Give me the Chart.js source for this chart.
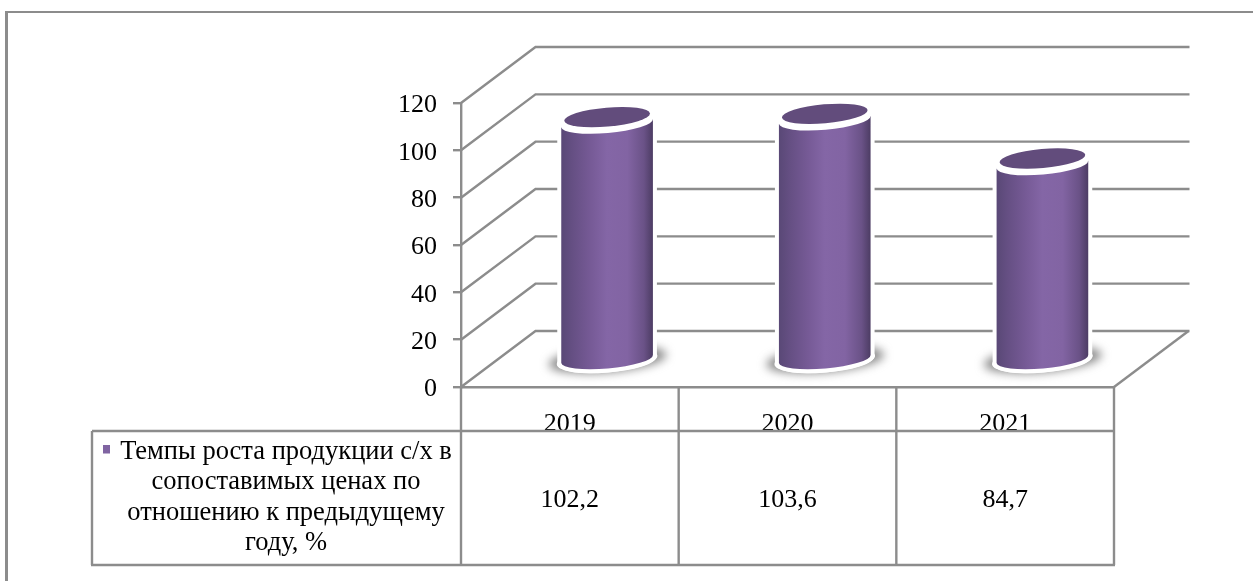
<!DOCTYPE html>
<html>
<head>
<meta charset="utf-8">
<script src="https://cdn.jsdelivr.net/npm/chart.js@4"></script>
<style>
html,body{margin:0;padding:0;background:#fff;overflow:hidden}
canvas{display:block}
</style>
</head>
<body>
<canvas id="c" width="1253" height="581"></canvas>
<script>
const categories = ["2019", "2020", "2021"];
const seriesValues = [102.2, 103.6, 84.7];
const valueLabels = ["102,2", "103,6", "84,7"];
const seriesName = "Темпы роста продукции с/х в сопоставимых ценах по отношению к предыдущему году, %";
const legendLines = ["Темпы роста продукции с/х в", "сопоставимых ценах по", "отношению к предыдущему", "году, %"];
const yTicks = [0, 20, 40, 60, 80, 100, 120];

const GRID = "#8c8c8c", FONT = "26px 'Liberation Serif'", LEGEND_FONT = "26.5px 'Liberation Serif'", TXT = "#000";
const DX = 74.5, DY = -56;
const TILT = -5 * Math.PI / 180;

function line(ctx, x1, y1, x2, y2) { ctx.beginPath(); ctx.moveTo(x1, y1); ctx.lineTo(x2, y2); ctx.stroke(); }

const scene = {
  id: "scene",
  beforeDraw(chart) {
    const y = chart.scales.y, ctx = chart.ctx;
    if (!y._shifted) {
      const orig = y.drawLabels;
      y.drawLabels = function (ca) { ctx.save(); ctx.translate(0, 2.5); orig.call(this, ca); ctx.restore(); };
      y._shifted = true;
    }
  },
  beforeDatasetsDraw(chart) {
    const { ctx, chartArea: a, scales: { x, y } } = chart;
    ctx.save();
    ctx.strokeStyle = GRID;
    // outer frame
    ctx.lineWidth = 3; line(ctx, 6.5, 581, 6.5, 11);
    ctx.lineWidth = 2; line(ctx, 5, 12, 1253, 12);
    ctx.lineWidth = 2.4;
    // walls and floor
    yTicks.forEach(v => {
      const p = y.getPixelForValue(v);
      ctx.beginPath(); ctx.moveTo(a.left, p); ctx.lineTo(a.left + DX, p + DY); ctx.lineTo(a.right + DX + 1, p + DY); ctx.stroke();
    });
    line(ctx, a.right, a.bottom, a.right + DX, a.bottom + DY);
    // data table
    const rowTop = a.bottom, headBot = 431, tblBot = 565, tblLeft = 92;
    const step = (a.right - a.left) / categories.length;
    line(ctx, tblLeft, headBot, a.right, headBot);
    line(ctx, tblLeft - 1, tblBot, a.right + 1, tblBot);
    line(ctx, tblLeft, headBot, tblLeft, tblBot);
    for (let i = 0; i <= categories.length; i++) {
      const cx = a.left + i * step;
      line(ctx, cx, rowTop, cx, tblBot);
    }
    ctx.fillStyle = TXT; ctx.font = FONT; ctx.textAlign = "center"; ctx.textBaseline = "alphabetic";
    valueLabels.forEach((t, i) => ctx.fillText(t, x.getPixelForTick(i), 507));
    ctx.font = LEGEND_FONT;
    const baselines = [459, 489, 520, 550];
    legendLines.forEach((t, i) => ctx.fillText(t, 286, baselines[i]));
    ctx.fillStyle = "#8064a2";
    ctx.fillRect(103, 445, 7, 8.5);
    ctx.restore();
  },
  afterDatasetsDraw(chart) {
    const { ctx, scales: { y } } = chart;
    const meta = chart.getDatasetMeta(0);
    const y0 = y.getPixelForValue(0) + DY / 2;
    meta.data.forEach(el => {
      const c = el.x + DX / 2, t = el.y + DY / 2;
      const R = 46;
      ctx.save();
      // bottom shadow (soft grey pool) under the white halo
      ctx.save();
      ctx.filter = "blur(5px)";
      ctx.fillStyle = "rgba(110,110,110,0.8)";
      ctx.beginPath(); ctx.ellipse(c + 0.5, y0 + 0.5, R + 13, 13, TILT, 0, Math.PI * 2); ctx.fill();
      ctx.restore();
      ctx.fillStyle = "#fff";
      ctx.beginPath(); ctx.ellipse(c, y0 + 1, R + 4.5, 12.5, TILT, 0, Math.PI * 2); ctx.fill();
      // body path
      const body = new Path2D();
      body.ellipse(c, t + 6, R, 10, TILT, Math.PI, 0, true);
      body.ellipse(c, y0, R, 9.5, TILT, 0, Math.PI, false);
      body.closePath();
      // white halo
      ctx.strokeStyle = "#fff"; ctx.lineWidth = 8; ctx.lineJoin = "round";
      ctx.stroke(body);
      const top = new Path2D();
      top.ellipse(c, t, R - 3, 9.5, TILT, 0, Math.PI * 2);
      ctx.fillStyle = "#fff";
      ctx.beginPath(); ctx.ellipse(c, t + 1, R + 1, 13, TILT, 0, Math.PI * 2); ctx.fill();
      // body gradient
      const g = ctx.createLinearGradient(c - R, 0, c + R, 0);
      g.addColorStop(0, "#594876");
      g.addColorStop(0.12, "#654f83");
      g.addColorStop(0.32, "#765a96");
      g.addColorStop(0.5, "#8466a6");
      g.addColorStop(0.72, "#8264a3");
      g.addColorStop(0.9, "#6a5287");
      g.addColorStop(1, "#4c3c63");
      ctx.fillStyle = g;
      ctx.fill(body);
      // top cap
      ctx.fillStyle = "#624c7c";
      ctx.fill(top);
      ctx.restore();
    });
  }
};

new Chart(document.getElementById("c"), {
  type: "bar",
  data: {
    labels: categories,
    datasets: [{ label: seriesName, data: seriesValues, backgroundColor: "rgba(128,100,162,0)", borderWidth: 0 }]
  },
  plugins: [scene],
  options: {
    responsive: false,
    animation: false,
    events: [],
    layout: { padding: { left: 0, top: 103, right: 139, bottom: 0 } },
    plugins: { legend: { display: false }, tooltip: { enabled: false }, title: { display: false } },
    scales: {
      x: {
        grid: { display: false },
        border: { color: GRID, width: 2.4 },
        afterFit(s) { s.height = 194; },
        ticks: { color: TXT, font: { family: "Liberation Serif", size: 26 }, padding: 14, maxRotation: 0 }
      },
      y: {
        min: 0, max: 120,
        afterFit(s) { s.width = 461; },
        afterBuildTicks(s) { s.ticks = yTicks.map(v => ({ value: v })); },
        grid: { drawOnChartArea: false, drawTicks: true, tickLength: 8, color: GRID, lineWidth: 2.4 },
        border: { color: GRID, width: 2.4 },
        ticks: { color: TXT, font: { family: "Liberation Serif", size: 26 }, padding: 16 }
      }
    }
  }
});
</script>
</body>
</html>
